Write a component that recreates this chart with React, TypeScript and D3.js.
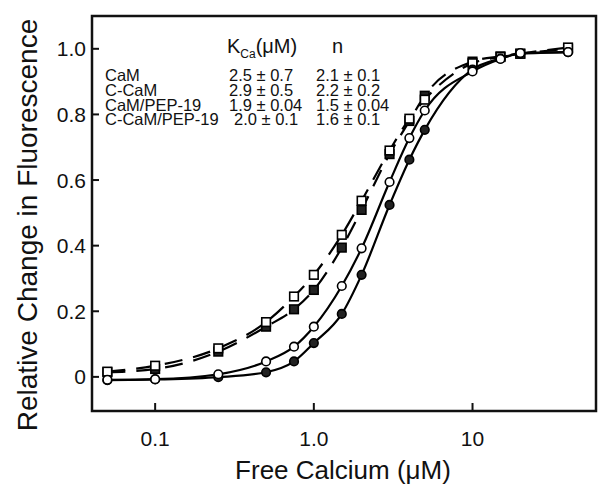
import React from "react";
import * as d3 from "d3";

const calcium = [0.05, 0.1, 0.25, 0.5, 0.75, 1.0, 1.5, 2.0, 3.0, 4.0, 5.0, 10, 15, 20, 40];
const camOpen = [-0.009, -0.007, 0.008, 0.047, 0.092, 0.153, 0.277, 0.392, 0.594, 0.728, 0.812, 0.931, 0.969, 0.987, 0.99];
const cCamFilled = [-0.01, -0.008, -0.001, 0.014, 0.047, 0.103, 0.192, 0.311, 0.524, 0.662, 0.753, 0.937, 0.97, 0.985, 0.99];
const camPepOpen = [0.016, 0.034, 0.087, 0.167, 0.245, 0.311, 0.433, 0.537, 0.69, 0.787, 0.845, 0.956, 0.975, 0.985, 1.004];
const cCamPepFilled = [0.014, 0.024, 0.077, 0.153, 0.206, 0.265, 0.394, 0.509, 0.679, 0.78, 0.857, 0.961, 0.977, 0.985, 1.0];

const xTicks = [0.1, 1, 10];
const xTickLabels = ["0.1", "1.0", "10"];
const yTicks = [0, 0.2, 0.4, 0.6, 0.8, 1.0];
const yTickLabels = ["0", "0.2", "0.4", "0.6", "0.8", "1.0"];

const legendNames = ["CaM", "C-CaM", "CaM/PEP-19", "C-CaM/PEP-19"];
const legendK = ["2.5 ± 0.7", "2.9 ± 0.5", "1.9 ± 0.04", "2.0 ± 0.1"];
const legendN = ["2.1 ± 0.1", "2.2 ± 0.2", "1.5 ± 0.04", "1.6 ± 0.1"];

const FONT = "'Liberation Sans', Arial, Helvetica, sans-serif";

export default function App() {
  const W = 604, H = 499;
  const left = 92, right = 596, top = 16, bottom = 411;
  const x = d3.scaleLog().domain([0.04, 60]).range([left, right]);
  const y = d3.scaleLinear().domain([-0.104, 1.1]).range([bottom, top]);

  const line = d3
    .line<number>()
    .x((_, i) => x(calcium[i]))
    .y((d) => y(d))
    .curve(d3.curveMonotoneX);

  const series = [
    { vals: camOpen, filled: false, shape: "circle", dash: null },
    { vals: cCamFilled, filled: true, shape: "circle", dash: null },
    { vals: camPepOpen, filled: false, shape: "square", dash: "18 11" },
    { vals: cCamPepFilled, filled: true, shape: "square", dash: "18 11" },
  ];

  const markerOrder = [3, 2, 1, 0];

  return (
    <svg
      width={W}
      height={H}
      style={{ position: "fixed", left: 0, top: 0, background: "#fff" }}
      fontFamily={FONT}
    >
      <rect x={0} y={0} width={W} height={H} fill="#fff" />
      {series.map((s, i) => (
        <path
          key={"l" + i}
          d={line(s.vals) || ""}
          fill="none"
          stroke="#000"
          strokeWidth={2.2}
          strokeDasharray={s.dash || undefined}
        />
      ))}
      {markerOrder.map((si) => {
        const s = series[si];
        return (
          <g key={"m" + si}>
            {s.vals.map((v, j) => {
              const cx = x(calcium[j]);
              const cy = y(v);
              const fill = s.filled ? "#222" : "#fff";
              return s.shape === "circle" ? (
                <circle key={j} cx={cx} cy={cy} r={4.3} fill={fill} stroke="#000" strokeWidth={1.6} />
              ) : (
                <rect key={j} x={cx - 4.3} y={cy - 4.3} width={8.6} height={8.6} fill={fill} stroke="#000" strokeWidth={1.6} />
              );
            })}
          </g>
        );
      })}
      <rect x={left} y={top} width={right - left} height={bottom - top} fill="none" stroke="#111" strokeWidth={2.5} />
      {yTicks.map((t, i) => (
        <g key={"yt" + i}>
          <line x1={left} x2={left + 7} y1={y(t)} y2={y(t)} stroke="#111" strokeWidth={2} />
          <text x={86} y={y(t) + 7.5} textAnchor="end" fontSize={21} fill="#111">
            {yTickLabels[i]}
          </text>
        </g>
      ))}
      {xTicks.map((t, i) => (
        <g key={"xt" + i}>
          <line x1={x(t)} x2={x(t)} y1={bottom} y2={bottom - 8} stroke="#111" strokeWidth={2} />
          <text x={x(t)} y={446} textAnchor="middle" fontSize={21} fill="#111">
            {xTickLabels[i]}
          </text>
        </g>
      ))}
      <text x={343} y={479} textAnchor="middle" fontSize={26} fill="#111">
        Free Calcium (μM)
      </text>
      <text
        transform={`translate(37, 225) rotate(-90)`}
        textAnchor="middle"
        fontSize={28}
        fill="#111"
      >
        Relative Change in Fluorescence
      </text>
      <text x={227} y={53} fontSize={20} fill="#111">
        K<tspan fontSize={12} dy={5}>Ca</tspan>
        <tspan dy={-5}>(μM)</tspan>
      </text>
      <text x={332} y={53} fontSize={20} fill="#111">
        n
      </text>
      {legendNames.map((nm, i) => (
        <g key={"lg" + i} fontSize={16.5} fill="#111">
          <text x={105} y={81 + i * 14.8}>{nm}</text>
          <text x={i === 3 ? 234 : 229} y={81 + i * 14.8}>{legendK[i]}</text>
          <text x={316} y={81 + i * 14.8}>{legendN[i]}</text>
        </g>
      ))}
    </svg>
  );
}
